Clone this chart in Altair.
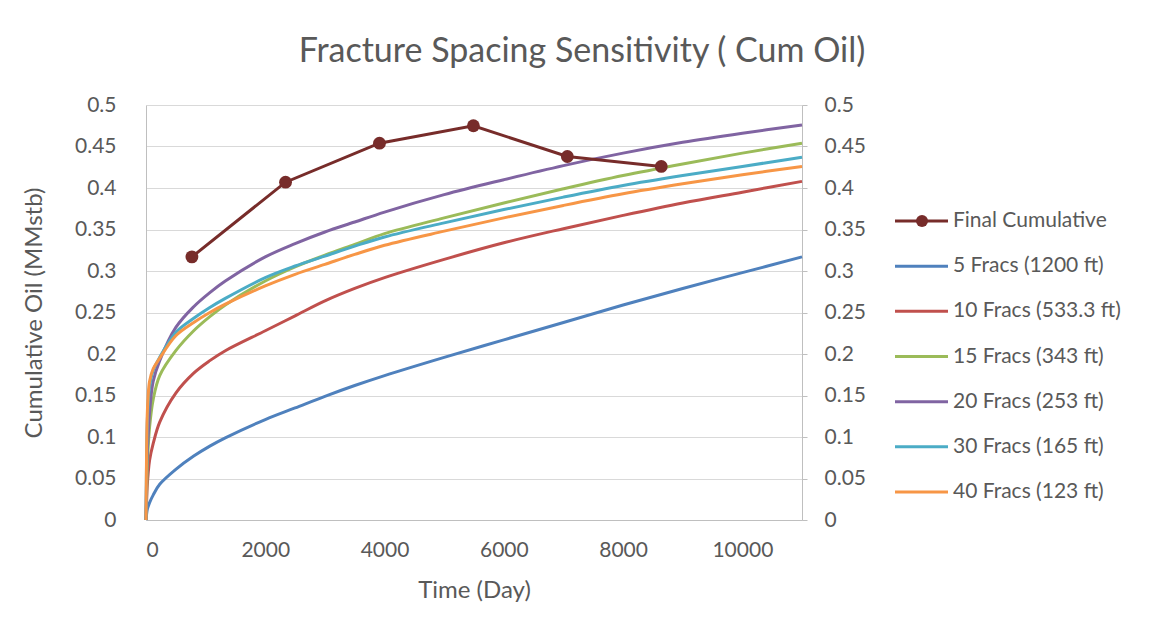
import altair as alt
import pandas as pd

# Simulation output: cumulative oil (MMstb) versus time (days)
days = [0, 20, 35, 60, 120, 230, 500, 800, 1070, 1330, 2000, 2500, 3000,
        3500, 4000, 5000, 6000, 7000, 8000, 9000, 10000, 11000]

fracs_5 = [0, 0.012, 0.016, 0.021, 0.030, 0.043, 0.061, 0.077, 0.089, 0.099, 0.121,
           0.135, 0.149, 0.162, 0.174, 0.196, 0.217, 0.238, 0.259, 0.279, 0.298, 0.317]
fracs_10 = [0, 0.040, 0.055, 0.072, 0.092, 0.118, 0.153, 0.177, 0.192, 0.204, 0.228,
            0.246, 0.264, 0.279, 0.292, 0.314, 0.334, 0.351, 0.367, 0.382, 0.395, 0.408]
fracs_15 = [0, 0.060, 0.085, 0.112, 0.145, 0.174, 0.204, 0.228, 0.245, 0.259, 0.288,
            0.305, 0.319, 0.332, 0.345, 0.364, 0.382, 0.399, 0.415, 0.429, 0.442, 0.454]
fracs_20 = [0, 0.080, 0.100, 0.130, 0.167, 0.192, 0.232, 0.257, 0.274, 0.288, 0.317,
            0.333, 0.347, 0.359, 0.371, 0.392, 0.410, 0.427, 0.442, 0.455, 0.466, 0.476]
fracs_30 = [0, 0.115, 0.138, 0.160, 0.180, 0.196, 0.226, 0.243, 0.256, 0.267, 0.292,
            0.306, 0.318, 0.330, 0.341, 0.358, 0.374, 0.389, 0.403, 0.415, 0.426, 0.437]
fracs_40 = [0, 0.125, 0.148, 0.167, 0.182, 0.195, 0.222, 0.238, 0.250, 0.260, 0.282,
            0.296, 0.308, 0.320, 0.331, 0.348, 0.364, 0.379, 0.393, 0.405, 0.416, 0.426]

series_names = ["5 Fracs (1200 ft)", "10 Fracs (533.3 ft)", "15 Fracs (343 ft)",
                "20 Fracs (253 ft)", "30 Fracs (165 ft)", "40 Fracs (123 ft)"]
series_values = [fracs_5, fracs_10, fracs_15, fracs_20, fracs_30, fracs_40]
series_colors = ["#4F81BD", "#C0504D", "#9BBB59", "#8064A2", "#4BACC6", "#F79646"]

# Final cumulative per case
final_name = "Final Cumulative"
final_days = [770, 2340, 3915, 5490, 7065, 8640]
final_cum = [0.317, 0.407, 0.454, 0.475, 0.438, 0.426]
final_color = "#772C2A"

x_ticks = [0, 2000, 4000, 6000, 8000, 10000]
y_ticks = [0, 0.05, 0.1, 0.15, 0.2, 0.25, 0.3, 0.35, 0.4, 0.45, 0.5]

FONT = "Lato"
TEXT = "#595959"
GRID = "#D9D9D9"
AXIS_LINE = "#BFBFBF"

rows = []
for name, vals in zip(series_names, series_values):
    for d, v in zip(days, vals):
        rows.append({"series": name, "day": d, "cum": v})
curve_df = pd.DataFrame(rows)
final_df = pd.DataFrame({"day": final_days, "cum": final_cum})

all_names = [final_name] + series_names
all_colors = [final_color] + series_colors
color_scale = alt.Scale(domain=all_names, range=all_colors)

x_enc = alt.X(
    "day:Q",
    scale=alt.Scale(domain=[0, 11000], nice=False),
    axis=alt.Axis(values=x_ticks, format="d", title="Time (Day)", grid=False, ticks=False,
                  domainColor=AXIS_LINE, labelPadding=19, titlePadding=18),
)

curves = alt.Chart(curve_df).mark_line(strokeWidth=3, interpolate="catmull-rom").encode(
    x=x_enc,
    y=alt.Y("cum:Q", scale=alt.Scale(domain=[0, 0.5], nice=False),
            axis=alt.Axis(values=y_ticks, format=".2~f", title="Cumulative Oil (MMstb)",
                          grid=True, gridColor=GRID, ticks=False, domainColor=AXIS_LINE,
                          labelPadding=30, minExtent=70, maxExtent=70, titlePadding=30)),
    color=alt.Color("series:N", scale=color_scale, legend=None),
)

final = alt.Chart(final_df).mark_line(
    color=final_color, strokeWidth=3,
    point=alt.OverlayMarkDef(filled=True, size=165, color=final_color, opacity=1),
).encode(
    x=x_enc,
    y=alt.Y("cum:Q", scale=alt.Scale(domain=[0, 0.5], nice=False),
            axis=alt.Axis(orient="right", values=y_ticks, format=".2~f", title=None,
                          grid=False, ticks=True, tickSize=5, tickColor=AXIS_LINE,
                          domainColor=AXIS_LINE, labelPadding=17)),
)

main = alt.layer(curves, final).resolve_scale(y="independent").properties(width=656, height=415)

# Legend panel
legend_df = pd.DataFrame({"series": all_names, "row": list(range(len(all_names)))})
leg_x = alt.Scale(domain=[0, 280])
leg_y = alt.Y("row:Q", scale=alt.Scale(domain=[-2.57, 6.62], reverse=True), axis=None)
leg_color = alt.Color("series:N", scale=color_scale, legend=None)

leg_lines = alt.Chart(legend_df).mark_rule(strokeWidth=3).encode(
    x=alt.XDatum(33, scale=leg_x, axis=None), x2=alt.X2Datum(86), y=leg_y, color=leg_color)
leg_dot = alt.Chart(legend_df).transform_filter(alt.datum.row == 0).mark_point(
    filled=True, size=145, opacity=1).encode(
    x=alt.XDatum(60, scale=leg_x, axis=None), y=leg_y, color=leg_color)
leg_text = alt.Chart(legend_df).mark_text(
    align="left", baseline="middle", font=FONT, fontSize=21, color=TEXT).encode(
    x=alt.XDatum(91, scale=leg_x, axis=None), y=leg_y, text="series:N")

legend_panel = alt.layer(leg_lines, leg_dot, leg_text).properties(width=280, height=415)

chart = alt.hconcat(main, legend_panel, spacing=60, bounds="flush").properties(
    title=alt.TitleParams(text="Fracture Spacing Sensitivity ( Cum Oil)", font=FONT,
                          fontSize=34, fontWeight="normal", color=TEXT, anchor="middle",
                          offset=25),
    padding={"left": 22, "top": 35, "right": 5, "bottom": 5},
).configure_view(stroke=None).configure_axis(
    labelFont=FONT, titleFont=FONT, labelFontSize=21, titleFontSize=24,
    labelColor=TEXT, titleColor=TEXT, titleFontWeight="normal",
)

chart.save("out.html", embed_options={"renderer": "svg", "actions": False})
